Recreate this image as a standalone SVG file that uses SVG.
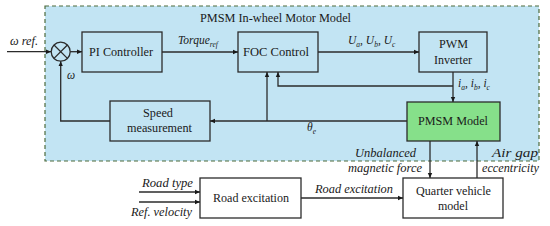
<svg xmlns="http://www.w3.org/2000/svg" width="550" height="226" viewBox="0 0 550 226">
<style>
.box{stroke:#2b2b2b;stroke-width:1.3;}
.blue{fill:#c2e4f3;}
.white{fill:#ffffff;}
text{font-family:"Liberation Serif","Times New Roman",serif;font-size:11.5px;fill:#1a1a1a;}
.i{font-style:italic;}
.c{text-anchor:middle;}
.r{text-anchor:end;}
.ln{stroke:#2b2b2b;stroke-width:1.3;fill:none;}
</style>
<defs>
<marker id="ah" markerWidth="6" markerHeight="6" refX="5" refY="3" orient="auto" markerUnits="userSpaceOnUse">
<path d="M0,0.8 L5,3 L0,5.2 z" fill="#1a1a1a"/>
</marker>
</defs>
<rect width="550" height="226" fill="#ffffff"/>
<g id="motor-model-frame">
<rect x="45" y="6" width="494" height="155" fill="#c2e4f3" stroke="#4d6b3c" stroke-width="1.2" stroke-dasharray="4,3"/>
<text class="c" x="275.5" y="22" font-size="12" textLength="151" lengthAdjust="spacingAndGlyphs">PMSM In-wheel Motor Model</text>
</g>
<g id="sum">
<circle cx="60.7" cy="51.7" r="9.5" fill="#c2e4f3" stroke="#2b2b2b" stroke-width="1.3"/>
<path d="M54,45 L67.4,58.4 M67.4,45 L54,58.4" class="ln"/>
</g>
<g id="pi">
<rect class="box blue" x="82" y="32" width="80" height="40"/>
<text class="c" x="121" y="56" textLength="64" lengthAdjust="spacingAndGlyphs">PI Controller</text>
</g>
<g id="foc">
<rect class="box blue" x="238" y="32" width="80" height="40"/>
<text class="c" x="276" y="56" textLength="66" lengthAdjust="spacingAndGlyphs">FOC Control</text>
</g>
<g id="pwm">
<rect class="box blue" x="419" y="32" width="68" height="40"/>
<text class="c" x="453.5" y="48" textLength="29" lengthAdjust="spacingAndGlyphs">PWM</text>
<text class="c" x="453" y="64" textLength="38" lengthAdjust="spacingAndGlyphs">Inverter</text>
</g>
<g id="pmsm">
<rect class="box" fill="#86e08a" x="407" y="102" width="93" height="39"/>
<text class="c" x="453" y="125" textLength="70" lengthAdjust="spacingAndGlyphs">PMSM Model</text>
</g>
<g id="speed">
<rect class="box blue" x="110" y="101" width="100" height="40"/>
<text class="c" x="158" y="117" textLength="30" lengthAdjust="spacingAndGlyphs">Speed</text>
<text class="c" x="159.5" y="132" textLength="65" lengthAdjust="spacingAndGlyphs">measurement</text>
</g>
<g id="road">
<rect class="box white" x="200" y="178" width="101" height="40"/>
<text class="c" x="251" y="202" textLength="76" lengthAdjust="spacingAndGlyphs">Road excitation</text>
</g>
<g id="quarter">
<rect class="box white" x="403" y="178" width="100" height="40"/>
<text class="c" x="453.5" y="195" textLength="75" lengthAdjust="spacingAndGlyphs">Quarter vehicle</text>
<text class="c" x="453" y="210" textLength="30" lengthAdjust="spacingAndGlyphs">model</text>
</g>
<g id="connectors">
<path class="ln" d="M7,51.7 L51,51.7" marker-end="url(#ah)"/>
<path class="ln" d="M70.2,51.7 L82,51.7" marker-end="url(#ah)"/>
<path class="ln" d="M162,52 L238,52" marker-end="url(#ah)"/>
<path class="ln" d="M318,52 L419,52" marker-end="url(#ah)"/>
<path class="ln" d="M453,72 L453,102" marker-end="url(#ah)"/>
<path class="ln" d="M453,86 L278,86 L278,72" marker-end="url(#ah)"/>
<path class="ln" d="M407,121 L210,121" marker-end="url(#ah)"/>
<path class="ln" d="M267,121 L267,72" marker-end="url(#ah)"/>
<path class="ln" d="M110,121 L60.7,121 L60.7,61.2" marker-end="url(#ah)"/>
<path class="ln" d="M430,141 L430,178" marker-end="url(#ah)"/>
<path class="ln" d="M477,178 L477,141" marker-end="url(#ah)"/>
<path class="ln" d="M301,198 L403,198" marker-end="url(#ah)"/>
<path class="ln" d="M139,192 L200,192" marker-end="url(#ah)"/>
<path class="ln" d="M139,202 L200,202" marker-end="url(#ah)"/>
</g>
<g id="labels">
<text class="i" x="10" y="45" textLength="28" lengthAdjust="spacingAndGlyphs">ω ref.</text>
<text class="i" x="67" y="79">ω</text>
<text class="i" x="178" y="44">Torque<tspan font-size="7.5" dy="3">ref</tspan></text>
<text class="i" x="348" y="44">U<tspan font-size="7.5" dy="3">a</tspan><tspan dy="-3">, U</tspan><tspan font-size="7.5" dy="3">b</tspan><tspan dy="-3">, U</tspan><tspan font-size="7.5" dy="3">c</tspan></text>
<text class="i" x="458" y="87">i<tspan font-size="7.5" dy="3">a</tspan><tspan dy="-3">, i</tspan><tspan font-size="7.5" dy="3">b</tspan><tspan dy="-3">, i</tspan><tspan font-size="7.5" dy="3">c</tspan></text>
<text class="i" x="307" y="131">θ<tspan font-size="7.5" dy="3">e</tspan></text>
<text class="i" x="355" y="157" textLength="61" lengthAdjust="spacingAndGlyphs">Unbalanced</text>
<text class="i" x="348" y="172" textLength="74" lengthAdjust="spacingAndGlyphs">magnetic force</text>
<text class="i" x="492" y="157" textLength="46" lengthAdjust="spacingAndGlyphs">Air gap</text>
<text class="i" x="482" y="172" textLength="57" lengthAdjust="spacingAndGlyphs">eccentricity</text>
<text class="i" x="315" y="193" textLength="78" lengthAdjust="spacingAndGlyphs">Road excitation</text>
<text class="i" x="142" y="187" textLength="51" lengthAdjust="spacingAndGlyphs">Road type</text>
<text class="i" x="131" y="216" textLength="61" lengthAdjust="spacingAndGlyphs">Ref. velocity</text>
</g>
</svg>
